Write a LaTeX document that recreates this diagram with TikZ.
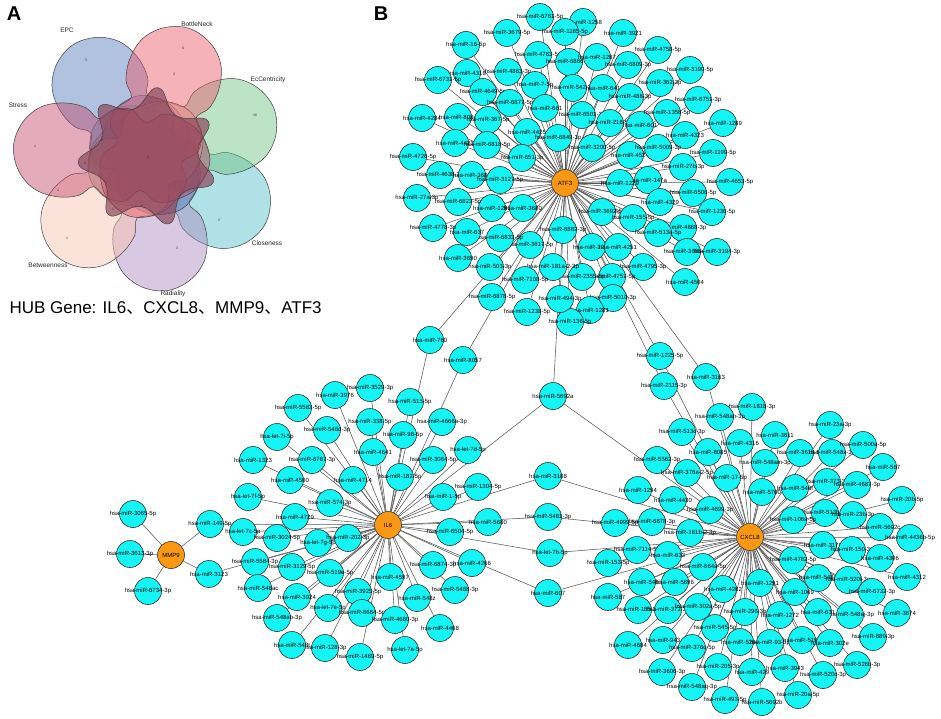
\documentclass[tikz,border=0pt]{standalone}
\usepackage{fontspec}
\setmainfont{Liberation Sans}
\newfontfamily\cjk{Noto Sans CJK SC}
\usetikzlibrary{backgrounds}

\definecolor{mircyan}{RGB}{20,245,245}
\definecolor{huborange}{RGB}{250,152,20}
\definecolor{vEcc}{RGB}{110,195,130}
\definecolor{vBot}{RGB}{235,85,100}
\definecolor{vEPC}{RGB}{80,120,185}
\definecolor{vStr}{RGB}{195,70,105}
\definecolor{vBet}{RGB}{250,195,175}
\definecolor{vRad}{RGB}{170,135,190}
\definecolor{vClo}{RGB}{80,190,200}
\definecolor{vAll}{RGB}{140,72,92}

\tikzset{
  mir/.style={circle, draw=black!80, fill=mircyan, line width=0.6pt, minimum size=27pt, inner sep=0pt},
  hub/.style={mir, fill=huborange, font=\fontsize{6}{6}\selectfont},
  lbl/.style={font=\fontsize{6}{6}\selectfont, inner sep=0pt},
  edge/.style={draw=black!65, line width=0.55pt},
  petal/.style={draw=black!75, line width=0.5pt, fill opacity=0.45},
  setlbl/.style={font=\fontsize{6.5}{7}\selectfont, text=black!85},
  cnt/.style={font=\fontsize{3.5}{4}\selectfont, text=black!80}
}

\begin{document}
\begin{tikzpicture}[x=1pt, y=-1pt]
  \begin{scope}[on background layer]
    \fill[white] (0,0) rectangle (941,719);
  \end{scope}
  \useasboundingbox (0,0) rectangle (941,719);

  %%%%% panel A %%%%%
  \node[font=\fontsize{20}{20}\bfseries\selectfont] (tagA) at (14,14) {A};
  \begin{scope}[shift={(148,157)}]
    \foreach \ang/\col in {329.6/vClo, 21/vEcc, 278.1/vRad, 123.9/vEPC, 226.7/vBet, 72.4/vBot, 175.3/vStr}
      \draw[petal, fill=\col, rotate=\ang] plot[smooth cycle, tension=0.6] coordinates {
        (135,0) (128,24) (111,41) (88,47) (66,44) (52,34) (38,44) (20,46) (5,34)
        (-12,44) (-32,40) (-52,26) (-62,0) (-52,-26) (-32,-40) (-12,-44) (5,-34)
        (20,-46) (38,-44) (52,-34) (66,-44) (88,-47) (111,-41) (128,-24)};
    % region shared by all seven sets
    \draw[draw=black!75, line width=0.5pt, fill=vAll, fill opacity=0.7] plot[smooth cycle, tension=0.8] coordinates {
      (21:70) (46.7:50) (72.4:70) (98.1:50) (123.9:70) (149.6:50) (175.3:70) (201:50)
      (226.7:70) (252.4:50) (278.1:70) (303.9:50) (329.6:70) (355.3:50)};
  \end{scope}
  \node[setlbl] (sEPC) at (67,30) {EPC};
  \node[setlbl] (sBot) at (197,24) {BottleNeck};
  \node[setlbl] (sEcc) at (268,80) {EcCentricity};
  \node[setlbl] (sStr) at (18,105) {Stress};
  \node[setlbl] (sBet) at (48,265) {Betweenness};
  \node[setlbl] (sRad) at (173,294) {Radiality};
  \node[setlbl] (sClo) at (267,243) {Closeness};
  \foreach \x/\y/\n [count=\i] in {148/157/6, 86/60/5, 183/48/6, 255/115/16, 35/146/1, 67/238/1,
      177/248/3, 219/220/2, 102/140/2, 85/163/2, 174/74/3, 142/206/2, 113/209/1, 58/190/4}
    \node[cnt] (c\i) at (\x,\y) {\n};
  \node[anchor=west, font=\fontsize{17}{17}\selectfont] (hub) at (6,308)
    {HUB Gene: IL6{\cjk 、}CXCL8{\cjk 、}MMP9{\cjk 、}ATF3};

  %%%%% panel B %%%%%
  \node[font=\fontsize{20}{20}\bfseries\selectfont] (tagB) at (381,14) {B};

  \node[hub] (ATF3) at (565,183) {ATF3};
  \node[hub] (IL6) at (388,525) {IL6};
  \node[hub] (CXCL8) at (750,537) {CXCL8};
  \node[hub] (MMP9) at (171,555) {MMP9};

  % ATF3 targets
  \foreach \x/\y/\t [count=\i] in {
      540/17/hsa-miR-6761-5p, 583/22/hsa-miR-1258, 507/33/hsa-miR-3679-5p, 565/32/hsa-miR-1185-5p,
      623/33/hsa-miR-3921, 466/45/hsa-miR-16-5p, 538/55/hsa-miR-4763-5p, 569/62/hsa-miR-6866-3p,
      597/57/hsa-miR-1287, 658/50/hsa-miR-4758-5p, 467/73/hsa-miR-4318, 508/72/hsa-miR-4863-3p,
      438/80/hsa-miR-6731-5p, 628/65/hsa-miR-6809-3p, 690/70/hsa-miR-3190-5p, 535/85/hsa-miR-7-5p,
      573/88/hsa-miR-542-3p, 603/88/hsa-miR-641, 660/83/hsa-miR-362-3p, 483/92/hsa-miR-4649-5p,
      510/103/hsa-miR-6877-5p, 545/108/hsa-miR-661, 630/97/hsa-miR-488-3p, 698/100/hsa-miR-6751-3p,
      422/118/hsa-miR-4284, 458/117/hsa-miR-8084, 488/120/hsa-miR-367-5p, 582/115/hsa-miR-6501-3p,
      610/123/hsa-miR-218-5p, 640/125/hsa-miR-601, 667/113/hsa-miR-1358-5p, 723/123/hsa-miR-1289,
      685/135/hsa-miR-4323, 527/132/hsa-miR-4425, 558/138/hsa-miR-6849-3p, 455/143/hsa-miR-4423,
      487/145/hsa-miR-6818-5p, 413/157/hsa-miR-4726-5p, 522/158/hsa-miR-651-3p, 592/148/hsa-miR-3200-5p,
      630/155/hsa-miR-4524, 658/148/hsa-miR-5009-3p, 713/153/hsa-miR-1199-5p, 440/175/hsa-miR-4638-3p,
      472/175/hsa-miR-3682, 500/180/hsa-miR-3127-5p, 683/167/hsa-miR-27b-3p, 648/180/hsa-miR-147a,
      620/183/hsa-miR-1229, 730/182/hsa-miR-4653-5p, 660/202/hsa-miR-4329, 693/193/hsa-miR-6506-5p,
      712/212/hsa-miR-1236-5p, 683/228/hsa-miR-4868-3p, 602/212/hsa-miR-3692-5p, 633/218/hsa-miR-155-5p,
      658/233/hsa-miR-513a-5p, 687/252/hsa-miR-3605-3p, 717/252/hsa-miR-3194-3p, 563/230/hsa-miR-6882-3p,
      592/247/hsa-miR-1297, 618/247/hsa-miR-4251, 643/267/hsa-miR-4795-3p, 685/282/hsa-miR-4504,
      612/277/hsa-miR-4757-5p, 582/277/hsa-miR-2355-5p, 553/267/hsa-miR-181a-2-3p, 530/245/hsa-miR-3617-5p,
      613/298/hsa-miR-5010-3p, 590/310/hsa-miR-1281, 570/322/hsa-miR-136-5p, 560/299/hsa-miR-494-3p,
      527/312/hsa-miR-1238-5p, 525/280/hsa-miR-7108-5p, 492/297/hsa-miR-6878-5p, 490/267/hsa-miR-503-3p,
      500/238/hsa-miR-6833-5p, 458/258/hsa-miR-3690, 467/232/hsa-miR-637, 433/228/hsa-miR-4778-3p,
      492/208/hsa-miR-1290, 523/208/hsa-miR-3680, 458/202/hsa-miR-6823-5p, 417/198/hsa-miR-27a-3p}{
    \node[mir, label={[lbl]center:\t}] (atf\i) at (\x,\y) {};
    \begin{scope}[on background layer]
      \draw[edge] (ATF3) -- (atf\i);
    \end{scope}
  }

  % IL6 targets
  \foreach \x/\y/\t [count=\i] in {
      370/388/hsa-miR-3529-3p, 335/395/hsa-miR-3976, 298/408/hsa-miR-5583-5p, 410/402/hsa-miR-515-5p,
      370/422/hsa-miR-338-5p, 327/430/hsa-miR-548d-3p, 442/422/hsa-miR-4666a-3p, 277/437/hsa-let-7i-5p,
      403/435/hsa-miR-98-5p, 373/452/hsa-miR-4641, 253/460/hsa-miR-1323, 312/460/hsa-miR-6787-3p,
      468/450/hsa-let-7d-5p, 433/460/hsa-miR-3064-5p, 400/477/hsa-miR-182-5p, 290/480/hsa-miR-4500,
      353/480/hsa-miR-4714, 248/497/hsa-let-7f-5p, 478/487/hsa-miR-1304-5p, 443/497/hsa-miR-1-5p,
      330/503/hsa-miR-574-3p, 295/517/hsa-miR-4729, 488/522/hsa-miR-5680, 243/532/hsa-let-7c-5p,
      450/532/hsa-miR-6504-5p, 277/538/hsa-miR-3024-5p, 318/543/hsa-let-7g-5p, 348/538/hsa-miR-202-3p,
      255/562/hsa-miR-5584-3p, 292/567/hsa-miR-3129-5p, 330/573/hsa-miR-519e-5p, 258/588/hsa-miR-548ac,
      297/597/hsa-miR-3924, 358/592/hsa-miR-3925-5p, 328/608/hsa-let-7e-5p, 277/618/hsa-miR-548ab-3p,
      433/565/hsa-miR-6874-3p, 472/563/hsa-miR-4266, 390/577/hsa-miR-4597, 455/590/hsa-miR-5488-3p,
      417/598/hsa-miR-548z, 362/613/hsa-miR-6664-5p, 395/620/hsa-miR-4680-3p, 440/628/hsa-miR-4468,
      405/650/hsa-let-7a-5p, 360/657/hsa-miR-1469-5p, 325/648/hsa-miR-128-3p, 292/645/hsa-miR-548t}{
    \node[mir, label={[lbl]center:\t}] (il\i) at (\x,\y) {};
    \begin{scope}[on background layer]
      \draw[edge] (IL6) -- (il\i);
    \end{scope}
  }

  % CXCL8 targets
  \foreach \x/\y/\t [count=\i] in {
      752/407/hsa-miR-1818-3p, 720/417/hsa-miR-548ah-3p, 682/432/hsa-miR-513c-3p, 740/443/hsa-miR-4316,
      708/452/hsa-miR-8085, 657/460/hsa-miR-5562-3p, 687/473/hsa-miR-376a-2-5p, 727/478/hsa-miR-17-5p,
      638/490/hsa-miR-1294, 673/500/hsa-miR-4430, 710/510/hsa-miR-4699-3p, 615/523/hsa-miR-4999-5p,
      652/522/hsa-miR-6878-3p, 690/533/hsa-miR-181b-2-3p, 637/550/hsa-miR-7114-5p, 608/563/hsa-miR-153-5p,
      668/555/hsa-miR-633, 703/567/hsa-miR-664a-5p, 642/582/hsa-miR-548i, 675/582/hsa-miR-5696,
      608/597/hsa-miR-587, 723/589/hsa-miR-4262, 638/610/hsa-miR-185-3p, 668/610/hsa-miR-372-3p,
      698/607/hsa-miR-302a-5p, 745/612/hsa-miR-296-3p, 760/583/hsa-miR-1291, 795/592/hsa-miR-1069,
      793/560/hsa-miR-4782-5p, 823/545/hsa-miR-3178, 852/550/hsa-miR-150-3p, 880/558/hsa-miR-4306,
      907/577/hsa-miR-4312, 818/578/hsa-miR-548q, 848/580/hsa-miR-520f-3p, 872/592/hsa-miR-6732-3p,
      897/613/hsa-miR-3674, 850/615/hsa-miR-548aj-3p, 818/612/hsa-miR-631, 780/615/hsa-miR-1272,
      715/628/hsa-miR-545-5p, 663/640/hsa-miR-943, 628/645/hsa-miR-4684, 692/648/hsa-miR-376c-5p,
      740/642/hsa-miR-520e, 770/643/hsa-miR-93-5p, 802/640/hsa-miR-5195, 830/643/hsa-miR-302e,
      873/637/hsa-miR-889-3p, 857/665/hsa-miR-526b-3p, 662/672/hsa-miR-3606-3p, 718/667/hsa-miR-205-3p,
      752/672/hsa-miR-429, 785/668/hsa-miR-3943, 823/675/hsa-miR-520c-3p, 692/687/hsa-miR-548aq-3p,
      725/700/hsa-miR-493-5p, 762/702/hsa-miR-5692b, 798/695/hsa-miR-20a-5p, 830/425/hsa-miR-23a-3p,
      775/435/hsa-miR-3611, 800/453/hsa-miR-3619-5p, 832/453/hsa-miR-548x-3p, 863/445/hsa-miR-500a-5p,
      765/463/hsa-miR-548am-3p, 827/482/hsa-miR-373-3p, 883/467/hsa-miR-567, 762/492/hsa-miR-5700,
      795/488/hsa-miR-548f, 857/485/hsa-miR-4687-3p, 902/500/hsa-miR-20b-5p, 825/513/hsa-miR-513b-3p,
      793/520/hsa-miR-106a-5p, 853/515/hsa-miR-23b-3p, 880/527/hsa-miR-5692c, 910/538/hsa-miR-4436b-5p}{
    \node[mir, label={[lbl]center:\t}] (cx\i) at (\x,\y) {};
    \begin{scope}[on background layer]
      \draw[edge] (CXCL8) -- (cx\i);
    \end{scope}
  }

  % MMP9 targets
  \foreach \x/\y/\t [count=\i] in {133/514/hsa-miR-3065-5p, 130/554/hsa-miR-3613-3p, 148/591/hsa-miR-6734-3p}{
    \node[mir, label={[lbl]center:\t}] (mm\i) at (\x,\y) {};
    \begin{scope}[on background layer]
      \draw[edge] (MMP9) -- (mm\i);
    \end{scope}
  }

  % shared targets
  \node[mir, label={[lbl]center:hsa-miR-760}] (m760) at (430,340) {};
  \node[mir, label={[lbl]center:hsa-miR-8057}] (m8057) at (463,360) {};
  \node[mir, label={[lbl]center:hsa-miR-5692a}] (m5692a) at (553,396) {};
  \node[mir, label={[lbl]center:hsa-miR-1225-5p}] (m1225) at (660,356) {};
  \node[mir, label={[lbl]center:hsa-miR-3163}] (m3163) at (706,377) {};
  \node[mir, label={[lbl]center:hsa-miR-2115-3p}] (m2115) at (664,386) {};
  \node[mir, label={[lbl]center:hsa-miR-3188}] (m3188) at (548,476) {};
  \node[mir, label={[lbl]center:hsa-miR-5481-3p}] (m5481) at (548,517) {};
  \node[mir, label={[lbl]center:hsa-let-7b-5p}] (l7b) at (550,553) {};
  \node[mir, label={[lbl]center:hsa-miR-607}] (m607) at (548,593) {};
  \node[mir, label={[lbl]center:hsa-miR-149-5p}] (m149) at (210,524) {};
  \node[mir, label={[lbl]center:hsa-miR-3123}] (m3123) at (209,574) {};

  \begin{scope}[on background layer]
    \foreach \n in {m760, m8057, m5692a, m1225, m3163, m2115}
      \draw[edge] (ATF3) -- (\n);
    \foreach \n in {m760, m8057, m5692a, m3188, m5481, l7b, m607, m149, m3123}
      \draw[edge] (IL6) -- (\n);
    \foreach \n in {m5692a, m1225, m3163, m2115, m3188, m5481, l7b, m607}
      \draw[edge] (CXCL8) -- (\n);
    \foreach \n in {m149, m3123}
      \draw[edge] (MMP9) -- (\n);
  \end{scope}
\end{tikzpicture}
\end{document}
